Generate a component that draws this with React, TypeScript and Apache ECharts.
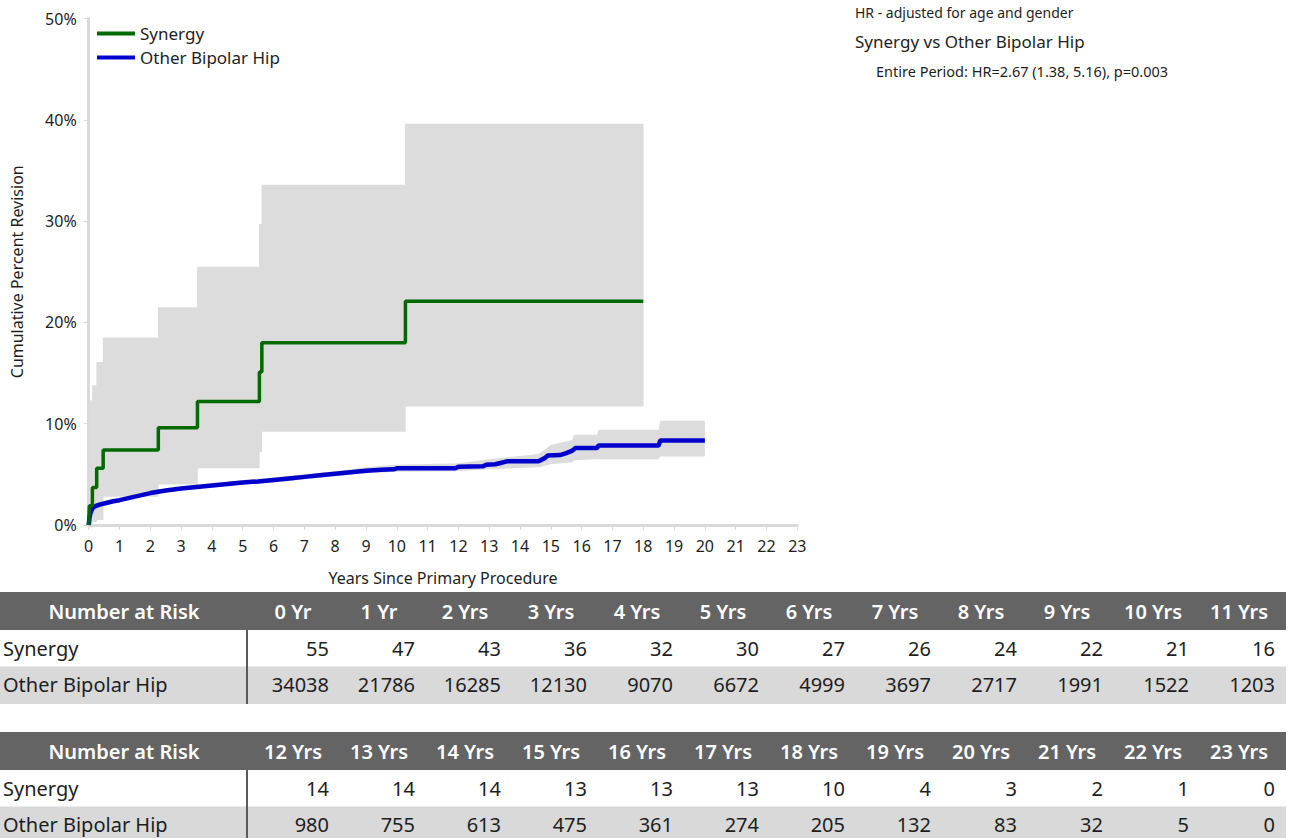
import React, { useEffect, useRef } from "react";
import * as echarts from "echarts";

// ---------- Data ----------
// Synergy Kaplan-Meier step curve (time in years, cumulative % revision)
const synergyT = [0, 0.02, 0.12, 0.26, 0.47, 2.26, 3.53, 5.54, 5.62, 10.28, 18.0];
const synergyV = [0, 1.9, 3.7, 5.6, 7.4, 9.6, 12.2, 15.1, 18.0, 22.1, 22.1];
// CI for interval [synergyT[i], synergyT[i+1]]
const synergyLo = [0, 0.1, 0.3, 0.5, 2.8, 4.0, 5.6, 7.2, 9.2, 11.7];
const synergyHi = [0, 12.3, 13.8, 16.1, 18.5, 21.5, 25.5, 29.7, 33.6, 39.6];

// Other Bipolar Hip curve
const otherT = [0, 0.02, 0.05, 0.1, 0.15, 0.25, 0.4, 0.6, 0.8, 1, 1.5, 2, 2.5, 3, 3.5, 4, 4.5, 5, 5.5, 6, 6.5, 7, 7.5, 8, 8.5, 9, 9.5, 9.9, 10, 11, 11.9, 12, 12.8, 12.9, 13.2, 13.4, 13.6, 14.6, 14.8, 14.9, 15.3, 15.5, 15.7, 15.8, 16.5, 16.55, 18.5, 18.55, 20];
const otherV = [0, 0.6, 1.1, 1.5, 1.75, 1.9, 2.05, 2.2, 2.35, 2.45, 2.8, 3.15, 3.4, 3.6, 3.75, 3.9, 4.05, 4.2, 4.3, 4.45, 4.6, 4.75, 4.9, 5.05, 5.2, 5.35, 5.45, 5.5, 5.6, 5.6, 5.6, 5.75, 5.8, 5.95, 6.0, 6.15, 6.3, 6.3, 6.6, 6.85, 6.9, 7.1, 7.35, 7.6, 7.6, 7.85, 7.85, 8.35, 8.35];
// Other Bipolar Hip CI band
const otherBandT = [0, 0.1, 0.5, 1, 2, 3, 4, 5, 6, 7, 8, 9, 10, 12, 13, 14.6, 15, 15.7, 15.75, 16.5, 16.55, 18.5, 18.55, 20];
const otherBandLo = [0, 1.3, 1.95, 2.3, 3.0, 3.4, 3.7, 4.0, 4.2, 4.5, 4.8, 5.1, 5.25, 5.3, 5.5, 5.7, 6.0, 6.2, 6.4, 6.5, 6.5, 6.5, 6.75, 6.75];
const otherBandHi = [0, 1.7, 2.35, 2.6, 3.35, 3.8, 4.1, 4.45, 4.7, 5.0, 5.3, 5.7, 5.95, 6.1, 6.5, 7.0, 7.9, 8.4, 8.9, 8.9, 9.4, 9.4, 10.3, 10.3];

// Number at risk tables
const riskHeaders1 = ["0 Yr", "1 Yr", "2 Yrs", "3 Yrs", "4 Yrs", "5 Yrs", "6 Yrs", "7 Yrs", "8 Yrs", "9 Yrs", "10 Yrs", "11 Yrs"];
const riskSynergy1 = [55, 47, 43, 36, 32, 30, 27, 26, 24, 22, 21, 16];
const riskOther1 = [34038, 21786, 16285, 12130, 9070, 6672, 4999, 3697, 2717, 1991, 1522, 1203];
const riskHeaders2 = ["12 Yrs", "13 Yrs", "14 Yrs", "15 Yrs", "16 Yrs", "17 Yrs", "18 Yrs", "19 Yrs", "20 Yrs", "21 Yrs", "22 Yrs", "23 Yrs"];
const riskSynergy2 = [14, 14, 14, 13, 13, 13, 10, 4, 3, 2, 1, 0];
const riskOther2 = [980, 755, 613, 475, 361, 274, 205, 132, 83, 32, 5, 0];

const seriesNames = ["Synergy", "Other Bipolar Hip"];
const annotation = [
  "HR - adjusted for age and gender",
  "Synergy vs Other Bipolar Hip",
  "Entire Period: HR=2.67 (1.38, 5.16), p=0.003",
];

// ---------- Styles ----------
const FONT = "'Noto Sans', 'DejaVu Sans', sans-serif";
const GREEN = "#006a00";
const BLUE = "#0000cd";
const BAND = "#dcdcdc";
const TEXT = "#1e1e1e";

function buildTable(top: number, headers: string[], syn: number[], oth: number[]) {
  const els: any[] = [];
  const headerH = 38;
  const rowH = 36.5;
  els.push({ type: "rect", shape: { x: 0, y: top, width: 1286, height: headerH }, style: { fill: "#646464" }, silent: true });
  els.push({ type: "rect", shape: { x: 0, y: top + headerH + rowH, width: 1286, height: rowH + 1 }, style: { fill: "#d9d9d9" }, silent: true });
  els.push({ type: "line", shape: { x1: 247, y1: top + headerH, x2: 247, y2: top + headerH + 2 * rowH + 1 }, style: { stroke: "#5a5a5a", lineWidth: 2 }, silent: true });
  const txt = (s: string, x: number, y: number, align: string, opts: any = {}) => ({
    type: "text",
    silent: true,
    style: {
      text: s, x, y,
      align, textAlign: align, verticalAlign: "middle", textVerticalAlign: "middle",
      fontFamily: FONT, fontSize: 20, fill: TEXT, ...opts,
    },
  });
  els.push(txt("Number at Risk", 124, top + headerH / 2, "center", { fill: "#ffffff", fontWeight: 600 }));
  els.push(txt(seriesNames[0], 3, top + headerH + rowH / 2, "left"));
  els.push(txt(seriesNames[1], 3, top + headerH + rowH * 1.5, "left"));
  headers.forEach((h, k) => {
    const right = 329 + k * 86;
    els.push(txt(h, right - 36, top + headerH / 2, "center", { fill: "#ffffff", fontWeight: 600 }));
    els.push(txt(String(syn[k]), right, top + headerH + rowH / 2, "right"));
    els.push(txt(String(oth[k]), right, top + headerH + rowH * 1.5, "right"));
  });
  return els;
}

export default function App() {
  const ref = useRef<HTMLDivElement>(null);

  useEffect(() => {
    if (!ref.current) return;
    const chart = echarts.init(ref.current, undefined, { renderer: "svg" });

    const synergyBandData = synergyLo.map((lo, i) => [synergyT[i], synergyT[i + 1], lo, synergyHi[i]]);

    const option: any = {
      animation: false,
      textStyle: { fontFamily: FONT },
      grid: { left: 88.7, right: 492.7, top: 18.5, bottom: 313 },
      legend: {
        data: seriesNames,
        orient: "vertical",
        left: 97,
        top: 25,
        icon: "rect",
        itemWidth: 38,
        itemHeight: 4,
        itemGap: 7,
        padding: 0,
        textStyle: { fontFamily: FONT, fontSize: 17, color: TEXT },
      },
      xAxis: {
        type: "value",
        min: 0,
        max: 23,
        interval: 1,
        name: "Years Since Primary Procedure",
        nameLocation: "middle",
        nameGap: 45,
        nameTextStyle: { fontFamily: FONT, fontSize: 16, color: TEXT },
        axisLine: { show: true, lineStyle: { color: "#d9d9d9", width: 3 } },
        axisTick: { show: true, length: 5, lineStyle: { color: "#d9d9d9", width: 1 } },
        axisLabel: { fontFamily: FONT, fontSize: 16, color: TEXT, margin: 13 },
        splitLine: { show: false },
      },
      yAxis: {
        type: "value",
        min: 0,
        max: 50,
        interval: 10,
        name: "Cumulative Percent Revision",
        nameLocation: "middle",
        nameGap: 64,
        nameTextStyle: { fontFamily: FONT, fontSize: 16, color: TEXT },
        axisLine: { show: true, lineStyle: { color: "#d9d9d9", width: 3 } },
        axisTick: { show: true, length: 5, lineStyle: { color: "#d9d9d9", width: 1 } },
        axisLabel: { fontFamily: FONT, fontSize: 16, color: TEXT, margin: 12, formatter: "{value}%" },
        splitLine: { show: false },
      },
      series: [
        {
          type: "custom",
          name: "Synergy CI",
          silent: true,
          z: 1,
          data: synergyBandData,
          encode: { x: [0, 1], y: [2, 3] },
          renderItem: (params: any, api: any) => {
            const a = api.coord([api.value(0), api.value(3)]);
            const b = api.coord([api.value(1), api.value(2)]);
            return {
              type: "rect",
              shape: { x: a[0] - 0.3, y: a[1], width: b[0] - a[0] + 0.6, height: b[1] - a[1] },
              style: { fill: BAND },
            };
          },
        },
        {
          type: "custom",
          name: "Other CI",
          silent: true,
          z: 1,
          data: otherBandT.map((t, i) => [t, otherBandLo[i], otherBandHi[i]]),
          encode: { x: 0, y: [1, 2] },
          renderItem: (params: any, api: any) => {
            if (params.dataIndex !== 0) return null;
            const up = otherBandT.map((t, i) => api.coord([t, otherBandHi[i]]));
            const lo = otherBandT.map((t, i) => api.coord([t, otherBandLo[i]])).reverse();
            return { type: "polygon", shape: { points: up.concat(lo) }, style: { fill: BAND } };
          },
        },
        {
          type: "line",
          name: seriesNames[1],
          z: 3,
          data: otherT.map((t, i) => [t, otherV[i]]),
          showSymbol: false,
          symbol: "none",
          lineStyle: { color: BLUE, width: 4.5 },
          itemStyle: { color: BLUE },
        },
        {
          type: "line",
          name: seriesNames[0],
          z: 4,
          step: "end",
          data: synergyT.map((t, i) => [t, synergyV[i]]),
          showSymbol: false,
          symbol: "none",
          lineStyle: { color: GREEN, width: 3.5 },
          itemStyle: { color: GREEN },
        },
      ],
      graphic: [
        { type: "text", silent: true, style: { text: annotation[0], x: 855, y: 12, verticalAlign: "middle", textVerticalAlign: "middle", fontFamily: FONT, fontSize: 14, fill: TEXT } },
        { type: "text", silent: true, style: { text: annotation[1], x: 855, y: 41, verticalAlign: "middle", textVerticalAlign: "middle", fontFamily: FONT, fontSize: 17, fill: TEXT } },
        { type: "text", silent: true, style: { text: annotation[2], x: 876, y: 71, verticalAlign: "middle", textVerticalAlign: "middle", fontFamily: FONT, fontSize: 14.5, fill: TEXT } },
        ...buildTable(592, riskHeaders1, riskSynergy1, riskOther1),
        ...buildTable(732, riskHeaders2, riskSynergy2, riskOther2),
      ],
    };

    chart.setOption(option);
    return () => chart.dispose();
  }, []);

  return (
    <div
      ref={ref}
      style={{ position: "fixed", left: 0, top: 0, width: 1290, height: 838, background: "#ffffff" }}
    />
  );
}
